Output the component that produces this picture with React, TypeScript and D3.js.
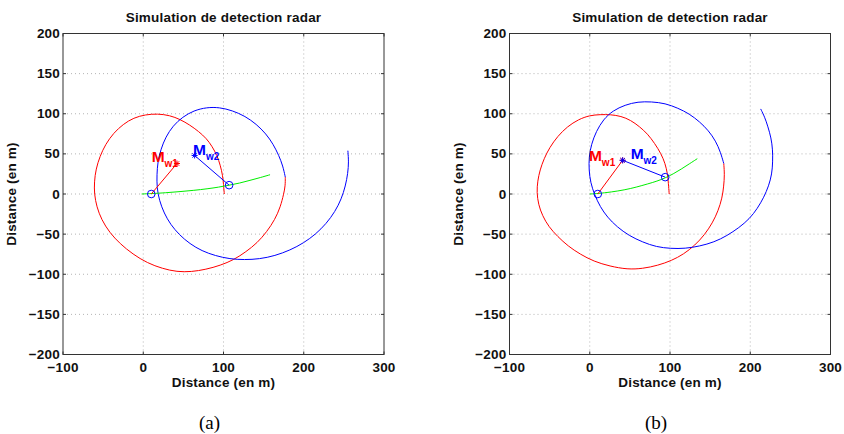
import React from "react";
import * as d3 from "d3";

const xTicks = [-100, 0, 100, 200, 300];
const yTicks = [-200, -150, -100, -50, 0, 50, 100, 150, 200];
const titleText = "Simulation de detection radar";
const xLabel = "Distance (en m)";
const yLabel = "Distance (en m)";

// Panel (a)
const redA: [number, number][] = [[101,0],[100,12],[99,23],[96,36],[92,48],[86,59],[79,69],[69,78],[58,86],[46,93],[33,98],[18,100],[3,99],[-12,95],[-25,87],[-37,76],[-47,62],[-54,47],[-59,31],[-61,15],[-61,0],[-58,-16],[-52,-32],[-42,-48],[-29,-62],[-13,-75],[5,-86],[24,-93],[42,-97],[60,-97],[78,-94],[96,-89],[113,-82],[128,-72],[142,-61],[154,-47],[164,-32],[171,-16],[175,0],[177,10],[177,21]];
const blueA: [number, number][] = [[177,21],[174,35],[169,48],[162,62],[153,75],[141,87],[127,97],[111,104],[95,108],[79,108],[63,104],[49,96],[37,85],[28,71],[22,56],[18,40],[17,24],[17,8],[20,-8],[26,-24],[34,-38],[45,-51],[58,-62],[73,-71],[90,-77],[108,-81],[126,-82],[145,-81],[164,-77],[183,-70],[200,-61],[215,-50],[228,-37],[239,-22],[247,-6],[252,10],[255,26],[256,40],[255,54]];
const greenA: [number, number][] = [[-2,0],[10,0.5],[28,1.5],[46,3],[63,4.5],[80,6.5],[94,8.5],[107,11],[120,13.5],[133,17],[146,20.5],[158,24]];
const circlesA: [number, number][] = [[10,0],[107,11]];
const starsA: [number, number][] = [[42,38],[64,48]];
const labelsA = [{ sub: "w1", x: 10.5, y: 39.5 }, { sub: "w2", x: 62, y: 48 }];

// Panel (b)
const redB: [number, number][] = [[99,0],[98,13],[97,25],[94,38],[89,50],[81,63],[72,75],[62,84],[51,92],[39,97],[26,99],[13,99],[0,98],[-14,93],[-28,84],[-40,72],[-50,58],[-57,44],[-62,30],[-65,16],[-66,2],[-64,-13],[-59,-27],[-51,-41],[-40,-53],[-27,-65],[-12,-75],[5,-84],[25,-90],[47,-94],[66,-93],[85,-89],[102,-83],[117,-75],[131,-64],[143,-51],[153,-36],[160,-21],[165,-5],[167,10],[168,24],[167,38]];
const blueB: [number, number][] = [[167,38],[163,52],[157,66],[148,79],[137,90],[124,100],[110,107],[94,113],[77,115],[60,115],[44,111],[29,104],[17,93],[8,78],[2,62],[-1,46],[-1,30],[1,14],[6,-1],[13,-16],[22,-29],[34,-41],[49,-52],[66,-60],[83,-66],[101,-68],[119,-68],[137,-65],[155,-60],[171,-52],[186,-42],[199,-31],[209,-18],[217,-4],[223,10],[227,25],[228,40],[228,55],[226,70],[222,84],[218,96],[213,106]];
const greenB: [number, number][] = [[0,0],[10,0.5],[27,2.5],[43,5],[58,8.5],[72,12.5],[84,16],[94,20],[104,25],[114,31],[124,37.5],[134,44]];
const circlesB: [number, number][] = [[10,0],[94,21]];
const starsB: [number, number][] = [[41,42],[41,42]];
const labelsB = [{ sub: "w1", x: -1, y: 41.5 }, { sub: "w2", x: 51, y: 44 }];

const FONT = "'Liberation Sans', Arial, Helvetica, sans-serif";

type PanelProps = {
  left: number;
  caption: string;
  red: [number, number][];
  blue: [number, number][];
  green: [number, number][];
  circles: [number, number][];
  stars: [number, number][];
  labels: { sub: string; x: number; y: number }[];
};

function Star({ cx, cy, color }: { cx: number; cy: number; color: string }) {
  const r = 3;
  const d = 2.2;
  return (
    <g stroke={color} strokeWidth={1}>
      <line x1={cx - r} y1={cy} x2={cx + r} y2={cy} />
      <line x1={cx} y1={cy - r} x2={cx} y2={cy + r} />
      <line x1={cx - d} y1={cy - d} x2={cx + d} y2={cy + d} />
      <line x1={cx - d} y1={cy + d} x2={cx + d} y2={cy - d} />
    </g>
  );
}

function Panel({ left, caption, red, blue, green, circles, stars, labels }: PanelProps) {
  const top = 33.5;
  const size = 321;
  const x = d3.scaleLinear().domain([-100, 300]).range([left, left + size]);
  const y = d3.scaleLinear().domain([-200, 200]).range([top + size, top]);
  const line = d3
    .line<[number, number]>()
    .x((d) => x(d[0]))
    .y((d) => y(d[1]))
    .curve(d3.curveBasis);
  const straight = d3
    .line<[number, number]>()
    .x((d) => x(d[0]))
    .y((d) => y(d[1]));
  const cxm = left + size / 2;
  const tick = 3;
  const colors = ["#ff0000", "#0000ff"];
  const txt = { fontFamily: FONT, fontWeight: "bold" as const, fontSize: 13.5, fill: "#111", letterSpacing: 0.2 };
  return (
    <g>
      <g stroke="#b4b4b4" strokeWidth={1} strokeDasharray="1,3">
        {xTicks.slice(1, -1).map((t) => (
          <line key={"gx" + t} x1={x(t)} x2={x(t)} y1={top} y2={top + size} />
        ))}
        {yTicks.slice(1, -1).map((t) => (
          <line key={"gy" + t} x1={left} x2={left + size} y1={y(t)} y2={y(t)} />
        ))}
      </g>
      <g stroke="#333" strokeWidth={1}>
        {xTicks.map((t) => (
          <g key={"tx" + t}>
            <line x1={x(t)} x2={x(t)} y1={top + size} y2={top + size - tick} />
            <line x1={x(t)} x2={x(t)} y1={top} y2={top + tick} />
          </g>
        ))}
        {yTicks.map((t) => (
          <g key={"ty" + t}>
            <line x1={left} x2={left + tick} y1={y(t)} y2={y(t)} />
            <line x1={left + size} x2={left + size - tick} y1={y(t)} y2={y(t)} />
          </g>
        ))}
      </g>
      <path d={line(red) || ""} fill="none" stroke="#ff0000" strokeWidth={1} />
      <path d={line(blue) || ""} fill="none" stroke="#0000ff" strokeWidth={1} />
      <path d={line(green) || ""} fill="none" stroke="#00ee00" strokeWidth={1} />
      <path d={straight([circles[0], stars[0]]) || ""} fill="none" stroke="#ff0000" strokeWidth={1} />
      <path d={straight([stars[1], circles[1]]) || ""} fill="none" stroke="#0000ff" strokeWidth={1} />
      {circles.map((c, i) => (
        <circle key={"c" + i} cx={x(c[0])} cy={y(c[1])} r={3.8} fill="none" stroke="#0000ff" strokeWidth={1} />
      ))}
      {stars.map((s, i) => (
        <Star key={"s" + i} cx={x(s[0])} cy={y(s[1])} color={colors[i]} />
      ))}
      {labels.map((l, i) => (
        <text key={"l" + i} x={x(l.x)} y={y(l.y)} fill={colors[i]} fontFamily={FONT} fontWeight="bold" fontSize={15.5}>
          M
          <tspan fontSize={10} dy={5}>{l.sub}</tspan>
        </text>
      ))}
      <rect x={left} y={top} width={size} height={size} fill="none" stroke="#333" strokeWidth={1} />
      {xTicks.map((t) => (
        <text key={"xl" + t} x={x(t)} y={top + size + 17} textAnchor="middle" {...txt}>
          {String(t).replace("-", "\u2212")}
        </text>
      ))}
      {yTicks.map((t) => (
        <text key={"yl" + t} x={left - 3} y={y(t) + 4.5} textAnchor="end" {...txt}>
          {String(t).replace("-", "\u2212")}
        </text>
      ))}
      <text x={cxm} y={22} textAnchor="middle" {...txt}>
        {titleText}
      </text>
      <text x={cxm} y={387} textAnchor="middle" {...txt}>
        {xLabel}
      </text>
      <text transform={`translate(${left - 47},${top + size / 2}) rotate(-90)`} textAnchor="middle" {...txt}>
        {yLabel}
      </text>
      <text x={cxm - 14} y={429} textAnchor="middle" fontFamily="'Liberation Serif', 'Times New Roman', serif" fontSize={19} fill="#000">
        {caption}
      </text>
    </g>
  );
}

export default function App() {
  return (
    <svg width={844} height={434} style={{ position: "absolute", left: 0, top: 0, background: "#fff" }}>
      <Panel left={63} caption="(a)" red={redA} blue={blueA} green={greenA} circles={circlesA} stars={starsA} labels={labelsA} />
      <Panel left={509.5} caption="(b)" red={redB} blue={blueB} green={greenB} circles={circlesB} stars={starsB} labels={labelsB} />
    </svg>
  );
}
